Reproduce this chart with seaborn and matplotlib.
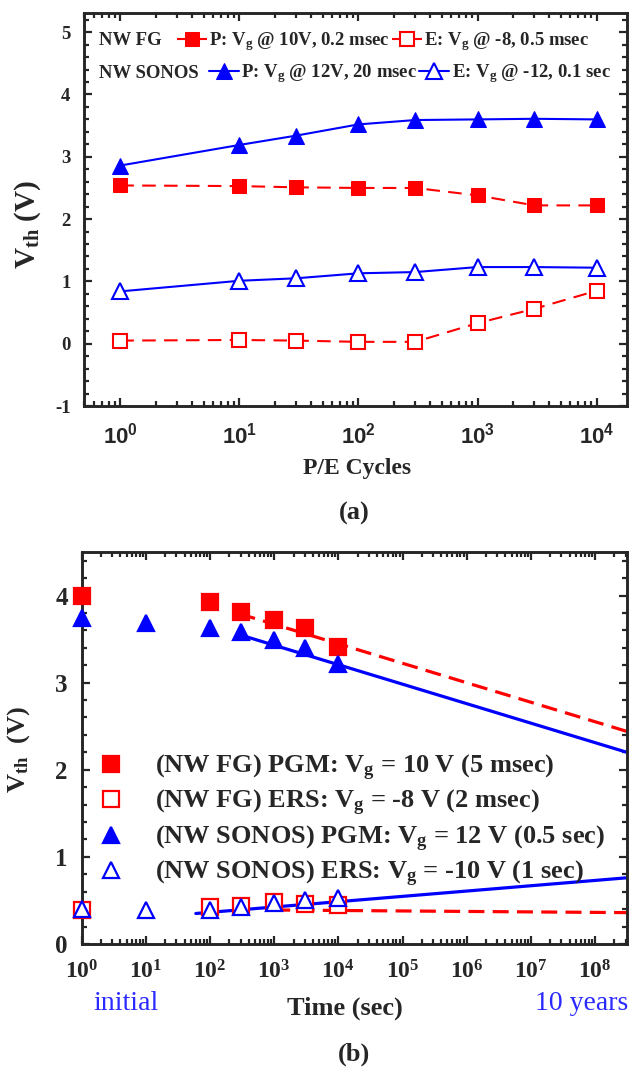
import numpy as np
import pandas as pd
import matplotlib
matplotlib.use("Agg")
import matplotlib.pyplot as plt
import seaborn as sns
from matplotlib.ticker import MultipleLocator, LogLocator, NullFormatter

sns.set_style("ticks")
plt.rcParams['font.family'] = ['Liberation Serif', 'DejaVu Serif']
plt.rcParams['font.weight'] = 'bold'
plt.rcParams['axes.unicode_minus'] = False
plt.rcParams['mathtext.fontset'] = 'custom'
plt.rcParams['mathtext.rm'] = 'Liberation Serif:bold'
plt.rcParams['mathtext.it'] = 'Liberation Serif:italic:bold'
plt.rcParams['mathtext.bf'] = 'Liberation Serif:bold'
plt.rcParams['mathtext.sf'] = 'Liberation Sans:bold'

RED = '#ff0000'
BLUE = '#0000ff'

# ---- panel (a): endurance ----
cycles = [1, 10, 30, 100, 300, 1000, 3000, 10000]
fg_prog = [2.54, 2.53, 2.51, 2.50, 2.50, 2.38, 2.22, 2.22]
fg_erase = [0.05, 0.06, 0.05, 0.03, 0.03, 0.33, 0.56, 0.85]
sonos_prog = [2.86, 3.19, 3.34, 3.52, 3.59, 3.60, 3.61, 3.60]
sonos_erase = [0.84, 1.01, 1.05, 1.13, 1.15, 1.23, 1.23, 1.22]
cycle_ticks = [1, 10, 100, 1000, 10000]
cycle_labels = [r'$\mathsf{10^{%d}}$' % i for i in range(5)]

# ---- panel (b): retention ----
t_fg_pgm = [1, 100, 300, 1000, 3000, 10000]
v_fg_pgm = [4.00, 3.93, 3.81, 3.72, 3.63, 3.41]
t_fg_ers = [1, 100, 300, 1000, 3000, 10000]
v_fg_ers = [0.39, 0.43, 0.44, 0.48, 0.46, 0.45]
t_so_pgm = [1, 10, 100, 300, 1000, 3000, 10000]
v_so_pgm = [3.74, 3.69, 3.63, 3.58, 3.49, 3.40, 3.21]
t_so_ers = [1, 10, 100, 300, 1000, 3000, 10000]
v_so_ers = [0.40, 0.39, 0.39, 0.43, 0.47, 0.51, 0.53]
ten_years = 3.15e8
# extrapolation lines (end points)
fit_fg_pgm_t, fit_fg_pgm_v = [290, ten_years], [3.79, 2.44]
fit_so_pgm_t, fit_so_pgm_v = [290, ten_years], [3.55, 2.20]
fit_fg_ers_t, fit_fg_ers_v = [1000, ten_years], [0.39, 0.36]
fit_so_ers_t, fit_so_ers_v = [60, ten_years], [0.35, 0.76]
time_ticks = [10.0 ** i for i in range(9)]
time_labels = [r'$10^{%d}$' % i for i in range(9)]

fig = plt.figure(figsize=(6.31, 10.71), dpi=100)
ax1 = fig.add_axes([0.1339, 0.6209, 0.8597, 0.3665])
ax2 = fig.add_axes([0.1295, 0.1186, 0.8642, 0.3660])

for ax in (ax1, ax2):
    ax.set_xscale('log')
    for s in ax.spines.values():
        s.set_linewidth(2.1)
        s.set_visible(True)
    ax.tick_params(which='both', direction='in', top=True, right=True, width=1.6)
    ax.tick_params(which='major', length=6)
    ax.tick_params(which='minor', length=3.5)

# panel (a) curves
sns.lineplot(x=cycles, y=fg_prog, ax=ax1, color=RED, lw=1.5,
             linestyle=(0, (6.5, 4)), marker='s', markersize=10,
             markeredgecolor=RED, markerfacecolor=RED, label='P: $\\mathrm{V_g}$ @ 10V, 0.2 msec')
sns.lineplot(x=cycles, y=fg_erase, ax=ax1, color=RED, lw=1.5,
             linestyle=(0, (6.5, 4)), marker='s', markersize=10, markeredgewidth=1.5,
             markeredgecolor=RED, markerfacecolor='white', label='E: $\\mathrm{V_g}$ @ -8, 0.5 msec')
sns.lineplot(x=cycles, y=sonos_prog, ax=ax1, color=BLUE, lw=1.5,
             marker='^', markersize=11, markeredgecolor=BLUE, markerfacecolor=BLUE,
             label='P: $\\mathrm{V_g}$ @ 12V, 20 msec ')
sns.lineplot(x=cycles, y=sonos_erase, ax=ax1, color=BLUE, lw=1.5,
             marker='^', markersize=11, markeredgewidth=1.5,
             markeredgecolor=BLUE, markerfacecolor='white', label='E: $\\mathrm{V_g}$ @ -12, 0.1 sec')

ax1.set_xlim(0.5, 18000)
ax1.set_ylim(-1, 5.3)
ax1.set_xticks(cycle_ticks)
ax1.set_xticklabels(cycle_labels, fontsize=16)
ax1.xaxis.set_minor_locator(LogLocator(base=10, subs=np.arange(2, 10), numticks=20))
ax1.xaxis.set_minor_formatter(NullFormatter())
ax1.set_yticks(range(-1, 6))
ax1.yaxis.set_minor_locator(MultipleLocator(0.2))
ax1.tick_params(axis='y', labelsize=13.5, pad=10)
ax1.tick_params(axis='x', pad=12)
ax1.set_xlabel('P/E Cycles', fontsize=17, fontweight='bold', va='center')
ax1.xaxis.set_label_coords(0.502, -0.160)
ax1.set_ylabel('$\\mathrm{V_{th}}$ (V)', fontsize=21, fontweight='bold', va='center')
ax1.yaxis.set_label_coords(-0.104, 0.461)

h = ax1.lines
lfs = 13.5
ax1.text(0.026, 0.930, 'NW FG', transform=ax1.transAxes, fontsize=lfs, va='center')
ax1.text(0.026, 0.848, 'NW SONOS', transform=ax1.transAxes, fontsize=lfs, va='center')
leg1 = ax1.legend(handles=[h[0], h[1]], loc='center left', bbox_to_anchor=(0.1705, 0.928),
                  ncol=2, frameon=False, fontsize=lfs, borderpad=0, borderaxespad=0,
                  handlelength=1.6, handletextpad=0.12, columnspacing=0.1)
ax1.add_artist(leg1)
ax1.legend(handles=[h[2], h[3]], loc='center left', bbox_to_anchor=(0.229, 0.846),
           ncol=2, frameon=False, fontsize=lfs, borderpad=0, borderaxespad=0,
           handlelength=1.6, handletextpad=0.12, columnspacing=0.1)

# panel (b) extrapolation lines
sns.lineplot(x=fit_fg_pgm_t, y=fit_fg_pgm_v, ax=ax2, color=RED, lw=2.3,
             linestyle=(0, (5, 2.6)), legend=False)
sns.lineplot(x=fit_so_pgm_t, y=fit_so_pgm_v, ax=ax2, color=BLUE, lw=2.3, legend=False)
sns.lineplot(x=fit_fg_ers_t, y=fit_fg_ers_v, ax=ax2, color=RED, lw=2.3,
             linestyle=(0, (5, 2.6)), legend=False)
sns.lineplot(x=fit_so_ers_t, y=fit_so_ers_v, ax=ax2, color=BLUE, lw=2.3, legend=False)
nfit = len(ax2.lines)

# panel (b) measured points
pts = [
    (t_fg_pgm, v_fg_pgm, 's', RED, RED, 11, '(NW FG) PGM: $\\mathrm{V_g}$ = 10 V (5 msec)'),
    (t_fg_ers, v_fg_ers, 's', RED, 'white', 11, '(NW FG) ERS: $\\mathrm{V_g}$ = -8 V (2 msec)'),
    (t_so_pgm, v_so_pgm, '^', BLUE, BLUE, 12, '(NW SONOS) PGM: $\\mathrm{V_g}$ = 12 V (0.5 sec)'),
    (t_so_ers, v_so_ers, '^', BLUE, 'white', 12, '(NW SONOS) ERS: $\\mathrm{V_g}$ = -10 V (1 sec)'),
]
for tx, vy, mk, ec, fc, ms, lab in pts:
    sns.lineplot(x=tx, y=vy, ax=ax2, color=ec, linestyle='none', marker=mk, markersize=ms,
                 markeredgecolor=ec, markerfacecolor=fc, markeredgewidth=1.6,
                 label=lab, clip_on=False, zorder=5)

ax2.set_xlim(1, ten_years)
ax2.set_ylim(0, 4.5)
ax2.set_xticks(time_ticks)
ax2.set_xticklabels(time_labels, fontsize=17)
ax2.xaxis.set_minor_locator(LogLocator(base=10, subs=np.arange(2, 10), numticks=30))
ax2.xaxis.set_minor_formatter(NullFormatter())
ax2.set_yticks(range(0, 5))
ax2.yaxis.set_minor_locator(MultipleLocator(0.2))
ax2.tick_params(axis='y', labelsize=18, pad=10)
ax2.tick_params(axis='x', pad=12)
ax2.set_xlabel('Time (sec)', fontsize=19, fontweight='bold', va='center')
ax2.xaxis.set_label_coords(0.483, -0.163)
ax2.set_ylabel('$\\mathrm{V_{th}}$  (V)', fontsize=19, fontweight='bold', va='center')
ax2.yaxis.set_label_coords(-0.115, 0.495)

ax2.legend(handles=ax2.lines[nfit:], loc='upper left', bbox_to_anchor=(0.030, 0.488),
           frameon=False, fontsize=19, borderpad=0, borderaxespad=0,
           handlelength=0.95, handletextpad=1.2, labelspacing=0.2)

fig.text(126 / 631, 1 - 1003 / 1071, 'initial', color='#2a2aff', fontsize=20,
         fontweight='normal', ha='center', va='center')
fig.text(535 / 631, 1 - 1003 / 1071, '10 years', color='#2a2aff', fontsize=20,
         fontweight='normal', ha='left', va='center')

fig.text(354 / 631, 1 - 513 / 1071, '(a)', fontsize=19, fontweight='bold', ha='center', va='center')
fig.text(354 / 631, 1 - 1054 / 1071, '(b)', fontsize=19, fontweight='bold', ha='center', va='center')

fig.savefig('out.png', dpi=100)
